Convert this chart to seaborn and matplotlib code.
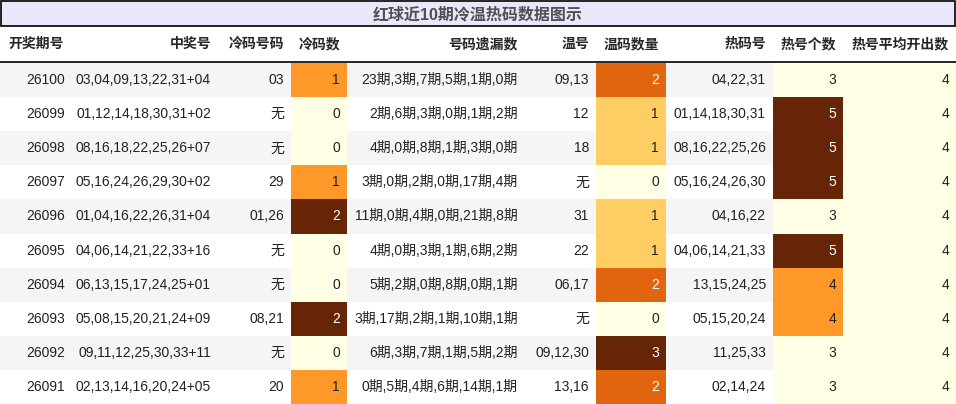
import matplotlib
matplotlib.use('Agg')
import matplotlib.pyplot as plt
import seaborn as sns
import numpy as np
from matplotlib.colors import Normalize

sns.set_style("white")
plt.rcParams['font.family'] = ['Liberation Sans', 'Noto Sans CJK SC', 'DejaVu Sans']

title = "红球近10期冷温热码数据图示"
headers = ["开奖期号", "中奖号", "冷码号码", "冷码数", "号码遗漏数", "温号", "温码数量", "热码号", "热号个数", "热号平均开出数"]

periods = ["26100", "26099", "26098", "26097", "26096", "26095", "26094", "26093", "26092", "26091"]
winning = ["03,04,09,13,22,31+04", "01,12,14,18,30,31+02", "08,16,18,22,25,26+07",
           "05,16,24,26,29,30+02", "01,04,16,22,26,31+04", "04,06,14,21,22,33+16",
           "06,13,15,17,24,25+01", "05,08,15,20,21,24+09", "09,11,12,25,30,33+11",
           "02,13,14,16,20,24+05"]
cold_nums = ["03", "无", "无", "29", "01,26", "无", "无", "08,21", "无", "20"]
cold_count = [1, 0, 0, 1, 2, 0, 0, 2, 0, 1]
missing = ["23期,3期,7期,5期,1期,0期", "2期,6期,3期,0期,1期,2期", "4期,0期,8期,1期,3期,0期",
           "3期,0期,2期,0期,17期,4期", "11期,0期,4期,0期,21期,8期", "4期,0期,3期,1期,6期,2期",
           "5期,2期,0期,8期,0期,1期", "3期,17期,2期,1期,10期,1期", "6期,3期,7期,1期,5期,2期",
           "0期,5期,4期,6期,14期,1期"]
warm_nums = ["09,13", "12", "18", "无", "31", "22", "06,17", "无", "09,12,30", "13,16"]
warm_count = [2, 1, 1, 0, 1, 1, 2, 0, 3, 2]
hot_nums = ["04,22,31", "01,14,18,30,31", "08,16,22,25,26", "05,16,24,26,30", "04,16,22",
            "04,06,14,21,33", "13,15,24,25", "05,15,20,24", "11,25,33", "02,14,24"]
hot_count = [3, 5, 5, 5, 3, 5, 4, 4, 3, 3]
hot_avg = [4, 4, 4, 4, 4, 4, 4, 4, 4, 4]

edges = [0, 72, 218, 291, 347, 525, 596, 666, 773, 843, 956]
columns = [periods, winning, cold_nums, cold_count, missing, warm_nums, warm_count, hot_nums, hot_count, hot_avg]
heat_cols = {3: cold_count, 6: warm_count, 8: hot_count, 9: hot_avg}
cmap = sns.color_palette("YlOrBr", as_cmap=True)

W, H = 956, 404
fig = plt.figure(figsize=(W / 100, H / 100), dpi=100)
ax = fig.add_axes([0, 0, 1, 1])
ax.set_xlim(0, W)
ax.set_ylim(H, 0)
ax.axis('off')

# title bar
ax.add_patch(plt.Rectangle((1, 1), W - 2, 25, facecolor="#E8E8FA", edgecolor="black", lw=1.2))
ax.text(W / 2, 14, title, ha='center', va='center', fontsize=11.5, fontweight='bold', color="#505050")

# header
hy = 44
for i, h in enumerate(headers):
    if i == 0:
        ax.text(8, hy, h, ha='left', va='center', fontsize=10, fontweight='bold')
    else:
        ax.text(edges[i + 1] - 7, hy, h, ha='right', va='center', fontsize=10, fontweight='bold')
ax.plot([0, W], [62, 62], color="black", lw=1.2)

top, rh = 63, (H - 63) / 10
for r in range(10):
    y0 = top + r * rh
    bg = "#F5F5F5" if r % 2 == 0 else "white"
    ax.add_patch(plt.Rectangle((0, y0), W, rh, facecolor=bg, edgecolor='none', zorder=0))
    for c, col in enumerate(columns):
        tc = "#222222"
        if c in heat_cols:
            vals = heat_cols[c]
            lo, hi = min(vals), max(vals)
            v = 0.0 if hi == lo else Normalize(lo, hi)(vals[r])
            ax.add_patch(plt.Rectangle((edges[c], y0), edges[c + 1] - edges[c], rh,
                                       facecolor=cmap(v), edgecolor='none', zorder=1))
            if v > 0.6:
                tc = "white"
        ax.text(edges[c + 1] - 7, y0 + rh / 2, str(col[r]), ha='right', va='center',
                fontsize=10, color=tc, zorder=2)

fig.savefig("out.png", dpi=100)
